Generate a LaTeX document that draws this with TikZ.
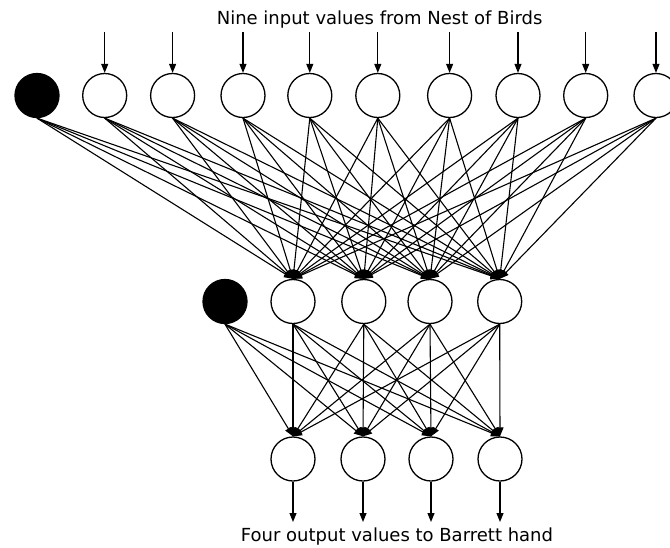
\documentclass[tikz,border=0pt]{standalone}
\usepackage{fontspec}
\setmainfont{DejaVu Sans}
\usetikzlibrary{arrows.meta}
\begin{document}
\begin{tikzpicture}[x=1pt,y=-1pt,
  neuron/.style={circle,draw,line width=1.3pt,minimum size=44pt,inner sep=0pt,fill=white},
  biasnode/.style={neuron,fill=black},
  link/.style={line width=1.1pt,-{Triangle[length=9pt,width=7pt]}},
  label/.style={font=\fontsize{18}{20}\selectfont,inner sep=0pt,anchor=base}]
\useasboundingbox (0,0) rectangle (670,547);
% input layer
\node[biasnode] (b0) at (37,95.5) {};
\foreach \i/\x in {1/104.7,2/172.6,3/243,4/309.8,5/377.8,6/449.6,7/518,8/585.7,9/656}{
  \node[neuron] (i\i) at (\x,95.5) {};
  \coordinate (ti\i) at (\x,32);
}
% hidden layer
\node[biasnode] (hb) at (225,301.5) {};
\foreach \i/\x in {1/293,2/363.8,3/430,4/499.7}{
  \node[neuron] (h\i) at (\x,301.5) {};
}
% output layer
\foreach \i/\x in {1/293,2/363,3/431,4/500}{
  \node[neuron] (o\i) at (\x,459) {};
  \coordinate (to\i) at (\x,522);
}
% input -> hidden
\foreach \s in {b0,i1,i2,i3,i4,i5,i6,i7,i8,i9}{
  \foreach \t in {1,...,4}{
    \draw[link] (\s.south) -- (h\t.north);
  }
}
% hidden -> output
\foreach \s in {hb,h1,h2,h3,h4}{
  \foreach \t in {1,...,4}{
    \draw[link] (\s.south) -- (o\t.north);
  }
}
% external inputs and outputs
\foreach \i in {1,...,9}{ \draw[link] (ti\i) -- (i\i.north); }
\foreach \i in {1,...,4}{ \draw[link] (o\i.south) -- (to\i); }
\node[label] (intext) at (379.6,24) {Nine input values from Nest of Birds};
\node[label] (outtext) at (397,541.5) {Four output values to Barrett hand};
\end{tikzpicture}
\end{document}
